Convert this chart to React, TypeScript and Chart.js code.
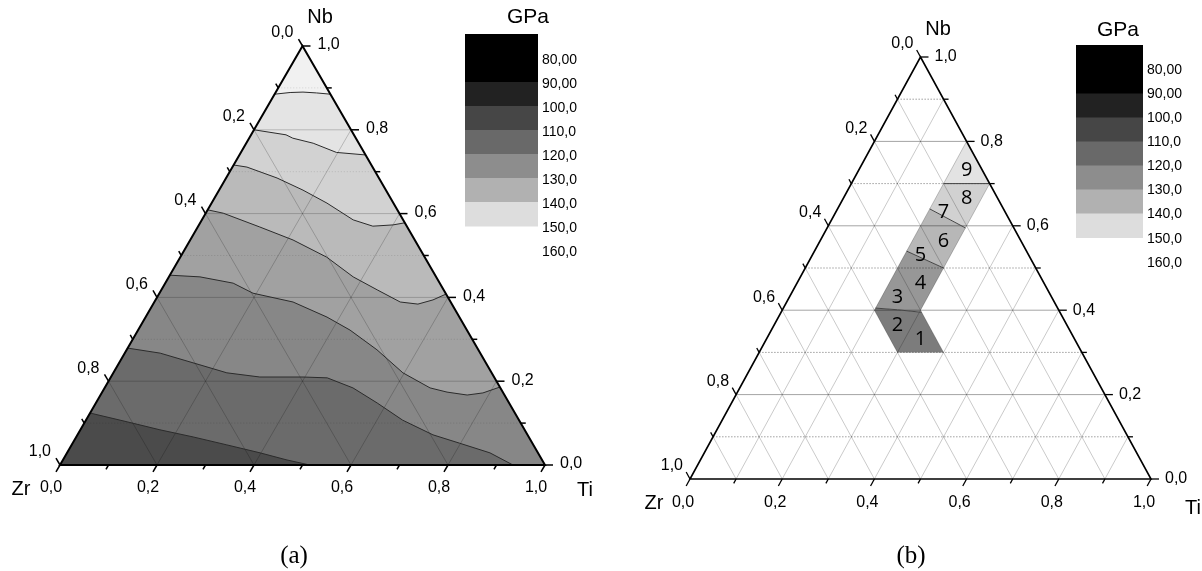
import React, { useEffect, useRef } from "react";
import { Chart, registerables } from "chart.js";

Chart.register(...registerables);

type TN = [number, number]; // [Ti fraction, Nb fraction]

// ---------------- shared axis data ----------------
const TICK_VALUES = [0, 0.1, 0.2, 0.3, 0.4, 0.5, 0.6, 0.7, 0.8, 0.9, 1.0];
const LABEL_VALUES = [0, 0.2, 0.4, 0.6, 0.8, 1.0];
const TICK_LABELS = ["0,0", "0,2", "0,4", "0,6", "0,8", "1,0"];
const GRID_MAJOR = [0.2, 0.4, 0.6, 0.8];
const GRID_MINOR = [0.1, 0.3, 0.5, 0.7, 0.9];
const AXIS_TITLES = ["Nb", "Zr", "Ti"];

// ---------------- legend ----------------
const LEGEND_TITLE = "GPa";
const LEGEND_LABELS = ["80,00", "90,00", "100,0", "110,0", "120,0", "130,0", "140,0", "150,0", "160,0"];
const LEGEND_COLORS = ["#000000", "#222222", "#464646", "#696969", "#8d8d8d", "#b1b1b1", "#dddddd"];

// ---------------- panel (a): contour lines [Ti, Nb] ----------------
const CONTOUR_1: TN[] = [[0, 0.885], [0.03, 0.889], [0.056, 0.89], [0.085, 0.888], [0.115, 0.885]];
const CONTOUR_2: TN[] = [[0, 0.8], [0.072, 0.788], [0.09, 0.78], [0.138, 0.768], [0.197, 0.746], [0.26, 0.74]];
const CONTOUR_3: TN[] = [[0, 0.716], [0.03, 0.711], [0.105, 0.685], [0.173, 0.656], [0.238, 0.625], [0.312, 0.585], [0.36, 0.57], [0.4, 0.573], [0.422, 0.578]];
const CONTOUR_4: TN[] = [[0, 0.609], [0.036, 0.601], [0.128, 0.568], [0.212, 0.537], [0.302, 0.496], [0.38, 0.449], [0.445, 0.418], [0.507, 0.389], [0.546, 0.384], [0.572, 0.394], [0.592, 0.408]];
const CONTOUR_5: TN[] = [[0, 0.453], [0.064, 0.449], [0.14, 0.434], [0.193, 0.41], [0.286, 0.389], [0.374, 0.353], [0.437, 0.322], [0.516, 0.275], [0.597, 0.22], [0.671, 0.184], [0.711, 0.174], [0.756, 0.167], [0.786, 0.172], [0.814, 0.186]];
const CONTOUR_6: TN[] = [[0, 0.279], [0.073, 0.267], [0.169, 0.239], [0.234, 0.22], [0.307, 0.21], [0.396, 0.21], [0.447, 0.208], [0.512, 0.184], [0.58, 0.148], [0.653, 0.107], [0.733, 0.072], [0.798, 0.052], [0.872, 0.029], [0.934, 0]];
const CONTOUR_7: TN[] = [[0, 0.124], [0.087, 0.103], [0.164, 0.084], [0.241, 0.067], [0.32, 0.048], [0.398, 0.029], [0.462, 0.012], [0.515, 0]];
// fill colours from lowest region (below contour 7) to top region (above contour 1)
const REGION_COLORS_A = ["#4b4b4b", "#6b6b6b", "#878787", "#a1a1a1", "#bababa", "#d2d2d2", "#e4e4e4", "#f1f1f1"];

// ---------------- panel (b): sample cells ----------------
const SAMPLE_NAMES = ["1", "2", "3", "4", "5", "6", "7", "8", "9"];
const SAMPLE_CELLS: TN[][] = [
  [[0.3, 0.3], [0.4, 0.3], [0.3, 0.4]],
  [[0.2, 0.4], [0.3, 0.3], [0.3, 0.4]],
  [[0.2, 0.4], [0.3, 0.4], [0.2, 0.5]],
  [[0.3, 0.4], [0.3, 0.5], [0.2, 0.5]],
  [[0.2, 0.5], [0.3, 0.5], [0.2, 0.6]],
  [[0.3, 0.5], [0.3, 0.6], [0.2, 0.6]],
  [[0.2, 0.6], [0.3, 0.6], [0.2, 0.7]],
  [[0.3, 0.6], [0.3, 0.7], [0.2, 0.7]],
  [[0.2, 0.7], [0.3, 0.7], [0.2, 0.8]],
];
const BAND_12: TN[] = [[0.3, 0.3], [0.2, 0.4], [0.2, 0.405], [0.25, 0.401], [0.305, 0.395], [0.4, 0.3]];
const BAND_34: TN[] = [[0.2, 0.405], [0.2, 0.54], [0.3, 0.5], [0.3, 0.4], [0.305, 0.395], [0.25, 0.401]];
const BAND_56: TN[] = [[0.2, 0.54], [0.2, 0.64], [0.3, 0.595], [0.3, 0.5]];
const BAND_78: TN[] = [[0.2, 0.64], [0.2, 0.7], [0.3, 0.7], [0.3, 0.595]];
const BAND_9: TN[] = [[0.2, 0.7], [0.2, 0.8], [0.3, 0.7]];
const BAND_COLORS_B = ["#7c7c7c", "#979797", "#b7b7b7", "#d1d1d1", "#e3e3e3"];
const CONTOUR_B1: TN[] = [[0.2, 0.405], [0.25, 0.401], [0.305, 0.395]];
const CONTOUR_B2: TN[] = [[0.2, 0.54], [0.3, 0.5]];
const CONTOUR_B3: TN[] = [[0.2, 0.64], [0.3, 0.595]];
const CONTOUR_B4: TN[] = [[0.2, 0.7], [0.3, 0.7]];

// ---------------- layout (page pixels) ----------------
const PANEL_A = {
  left: 0, width: 601, height: 571,
  x0: 60, y0: 465, w: 485, h: 419,
  edge: 2, tickW: 1.5, major: 8, minor: 5,
  tickFont: 16, titleFont: 20,
  offLeft: [-9, -13], offRight: [15, -1], offBottom: [-9, 23],
  titlePos: [[320, 17], [21, 489], [585, 490]],
  legend: { x: 465, w: 73, top: 34, firstH: 48, bandH: 24, labelX: 542, labelY0: 60, step: 24, font: 14, title: [528, 17], titleFont: 21 },
  caption: ["(a)", 294, 556],
  samples: false,
};
const PANEL_B = {
  left: 601, width: 601, height: 571,
  x0: 690, y0: 479, w: 461, h: 422,
  edge: 1.6, tickW: 1.3, major: 8, minor: 5,
  tickFont: 16, titleFont: 20,
  offLeft: [-7, -13], offRight: [14, 0], offBottom: [-7, 24],
  titlePos: [[938, 29], [654, 503], [1193, 508]],
  legend: { x: 1076, w: 67, top: 45, firstH: 48.5, bandH: 24, labelX: 1147, labelY0: 70, step: 24.1, font: 14, title: [1118, 30], titleFont: 21 },
  caption: ["(b)", 911, 556],
  samples: true,
};

const SANS = '"Liberation Sans", Arial, sans-serif';

const xy = (p: TN) => ({ x: p[0] + p[1] / 2, y: p[1] });
const GAP = { x: NaN, y: NaN };

function segs(list: [TN, TN][]) {
  const out: any[] = [];
  list.forEach(([a, b]) => out.push(xy(a), xy(b), GAP));
  return out;
}
const horiz = (vals: number[]) => segs(vals.map((v) => [[0, v], [1 - v, v]] as [TN, TN]));
const diag = (vals: number[]) =>
  segs(vals.flatMap((v) => [[[v, 0], [v, 1 - v]], [[1 - v, 0], [0, 1 - v]]] as [TN, TN][]));

function poly(pts: TN[], color: string, order: number) {
  return {
    data: pts.map(xy), showLine: true, fill: "shape", backgroundColor: color,
    borderWidth: 0, pointRadius: 0, pointHoverRadius: 0, tension: 0, order,
  };
}
function line(data: any[], color: string, width: number, order: number, dash: number[] = []) {
  return {
    data, showLine: true, fill: false, borderColor: color, borderWidth: width, borderDash: dash,
    borderCapStyle: "butt", borderJoinStyle: "miter",
    pointRadius: 0, pointHoverRadius: 0, tension: 0, order,
  };
}
const TRIANGLE: TN[] = [[0, 0], [1, 0], [0, 1], [0, 0], [1, 0]];

function datasetsA() {
  const ds: any[] = [];
  const contours = [CONTOUR_7, CONTOUR_6, CONTOUR_5, CONTOUR_4, CONTOUR_3, CONTOUR_2, CONTOUR_1];
  ds.push(poly([[0, 0], [1, 0], [0, 1]], REGION_COLORS_A[0], 100));
  contours.forEach((c, i) => {
    const pts: TN[] = [...c];
    if (c[c.length - 1][1] === 0) pts.push([1, 0]);
    pts.push([0, 1]);
    ds.push(poly(pts, REGION_COLORS_A[i + 1], 99 - i));
  });
  ds.push(line(horiz(GRID_MINOR), "rgba(0,0,0,0.13)", 1, 60, [1, 2]));
  ds.push(line(horiz(GRID_MAJOR), "rgba(0,0,0,0.2)", 1, 59));
  ds.push(line(diag(GRID_MAJOR), "rgba(0,0,0,0.2)", 1, 58));
  contours.forEach((c) => ds.push(line(c.map(xy), "#2b2b2b", 1, 40)));
  ds.push(line(TRIANGLE.map(xy), "#000", PANEL_A.edge, 1));
  return ds;
}

function datasetsB() {
  const ds: any[] = [];
  [BAND_12, BAND_34, BAND_56, BAND_78, BAND_9].forEach((b, i) => ds.push(poly(b, BAND_COLORS_B[i], 100 - i)));
  ds.push(line(horiz(GRID_MINOR), "rgba(0,0,0,0.38)", 1, 60, [1.5, 1.5]));
  ds.push(line(horiz(GRID_MAJOR), "rgba(0,0,0,0.36)", 1, 59));
  ds.push(line(diag([...GRID_MINOR, ...GRID_MAJOR]), "rgba(0,0,0,0.27)", 0.8, 58));
  [CONTOUR_B1, CONTOUR_B2, CONTOUR_B3, CONTOUR_B4].forEach((c) => ds.push(line(c.map(xy), "#444", 1, 40)));
  ds.push(line(TRIANGLE.map(xy), "#000", PANEL_B.edge, 1));
  return ds;
}

function overlay(cfg: typeof PANEL_A) {
  return {
    id: "overlay",
    afterDatasetsDraw(chart: any) {
      const ctx = chart.ctx as CanvasRenderingContext2D;
      const sx = chart.scales.x;
      const sy = chart.scales.y;
      const P = (t: number, n: number) => ({ x: sx.getPixelForValue(t + n / 2), y: sy.getPixelForValue(n) });
      const apex = P(0, 1), zr = P(0, 0), ti = P(1, 0);
      const norm = (dx: number, dy: number) => { const l = Math.hypot(dx, dy); return [dx / l, dy / l]; };
      const dLeft = norm(apex.x - ti.x, apex.y - ti.y);
      const dBottom = norm(zr.x - apex.x, zr.y - apex.y);
      const dRight = [1, 0];
      const L = cfg.left;
      ctx.save();
      // ticks
      ctx.strokeStyle = "#000";
      ctx.lineWidth = cfg.tickW;
      TICK_VALUES.forEach((v, i) => {
        const len = i % 2 === 0 ? cfg.major : cfg.minor;
        const list: [{ x: number; y: number }, number[]][] = [
          [P(0, 1 - v), dLeft],
          [P(1 - v, v), dRight],
          [P(v, 0), dBottom],
        ];
        list.forEach(([p, d]) => {
          ctx.beginPath();
          ctx.moveTo(p.x, p.y);
          ctx.lineTo(p.x + d[0] * len, p.y + d[1] * len);
          ctx.stroke();
        });
      });
      // tick labels
      ctx.fillStyle = "#000";
      ctx.textBaseline = "middle";
      ctx.font = `${cfg.tickFont}px ${SANS}`;
      LABEL_VALUES.forEach((v, i) => {
        const lab = TICK_LABELS[i];
        let p = P(0, 1 - v);
        ctx.textAlign = "right";
        ctx.fillText(lab, p.x + cfg.offLeft[0], p.y + cfg.offLeft[1]);
        p = P(1 - v, v);
        ctx.textAlign = "left";
        ctx.fillText(lab, p.x + cfg.offRight[0], p.y + cfg.offRight[1]);
        p = P(v, 0);
        ctx.textAlign = "center";
        ctx.fillText(lab, p.x + cfg.offBottom[0], p.y + cfg.offBottom[1]);
      });
      // axis titles
      ctx.font = `${cfg.titleFont}px ${SANS}`;
      ctx.textAlign = "center";
      AXIS_TITLES.forEach((t, i) => ctx.fillText(t, cfg.titlePos[i][0] - L, cfg.titlePos[i][1]));
      // legend
      const lg = cfg.legend;
      let y = lg.top;
      LEGEND_COLORS.forEach((c, i) => {
        const hh = i === 0 ? lg.firstH : lg.bandH;
        ctx.fillStyle = c;
        ctx.fillRect(lg.x - L, y, lg.w, hh + 0.5);
        y += hh;
      });
      ctx.fillStyle = "#000";
      ctx.font = `${lg.titleFont}px ${SANS}`;
      ctx.fillText(LEGEND_TITLE, lg.title[0] - L, lg.title[1]);
      ctx.font = `${lg.font}px ${SANS}`;
      ctx.textAlign = "left";
      LEGEND_LABELS.forEach((t, i) => ctx.fillText(t, lg.labelX - L, lg.labelY0 + i * lg.step));
      // sample numbers
      if (cfg.samples) {
        ctx.font = `20px "Open Sans", ${SANS}`;
        ctx.textAlign = "center";
        SAMPLE_CELLS.forEach((cell, i) => {
          const t = (cell[0][0] + cell[1][0] + cell[2][0]) / 3;
          const n = (cell[0][1] + cell[1][1] + cell[2][1]) / 3;
          const p = P(t, n);
          ctx.fillText(SAMPLE_NAMES[i], p.x, p.y + 1);
        });
      }
      // caption
      ctx.font = `25px "Liberation Serif", "Times New Roman", serif`;
      ctx.textAlign = "center";
      ctx.fillText(String(cfg.caption[0]), Number(cfg.caption[1]) - L, Number(cfg.caption[2]));
      ctx.restore();
    },
  };
}

function makeChart(canvas: HTMLCanvasElement, cfg: typeof PANEL_A, datasets: any[]) {
  const x0 = cfg.x0 - cfg.left;
  return new Chart(canvas, {
    type: "scatter",
    data: { datasets },
    options: {
      animation: false,
      responsive: false,
      maintainAspectRatio: false,
      devicePixelRatio: 1,
      events: [],
      layout: { padding: 0 },
      plugins: { legend: { display: false }, tooltip: { enabled: false } },
      scales: {
        x: { type: "linear", display: false, bounds: "data", min: -x0 / cfg.w, max: (cfg.width - x0) / cfg.w },
        y: { type: "linear", display: false, bounds: "data", min: (cfg.y0 - cfg.height) / cfg.h, max: cfg.y0 / cfg.h },
      },
    } as any,
    plugins: [overlay(cfg)],
  });
}

export default function App() {
  const refA = useRef<HTMLCanvasElement>(null);
  const refB = useRef<HTMLCanvasElement>(null);
  useEffect(() => {
    const charts: Chart[] = [];
    if (refA.current) charts.push(makeChart(refA.current, PANEL_A, datasetsA()));
    if (refB.current) charts.push(makeChart(refB.current, PANEL_B as any, datasetsB()));
    return () => charts.forEach((c) => c.destroy());
  }, []);
  return (
    <div style={{ position: "absolute", left: 0, top: 0, width: 1202, height: 571, background: "#fff", overflow: "hidden" }}>
      <canvas ref={refA} width={PANEL_A.width} height={PANEL_A.height}
        style={{ position: "absolute", left: PANEL_A.left, top: 0, width: PANEL_A.width, height: PANEL_A.height }} />
      <canvas ref={refB} width={PANEL_B.width} height={PANEL_B.height}
        style={{ position: "absolute", left: PANEL_B.left, top: 0, width: PANEL_B.width, height: PANEL_B.height }} />
    </div>
  );
}
